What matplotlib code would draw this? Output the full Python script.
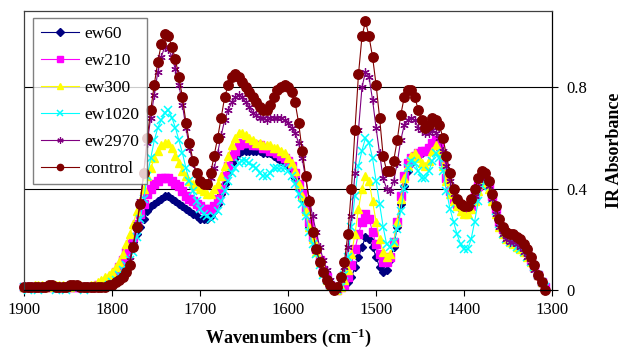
import numpy as np
import matplotlib
matplotlib.use('Agg')
import matplotlib.pyplot as plt

plt.rcParams['font.family'] = ['Liberation Serif', 'DejaVu Serif']
plt.rcParams['mathtext.fontset'] = 'custom'
plt.rcParams['mathtext.rm'] = 'Liberation Serif:bold'
plt.rcParams['mathtext.default'] = 'rm'

# wavenumbers, 1900 -> 1308 every 4 cm-1
wavenumbers = np.arange(1900, 1307, -4)

ew60 = [
    0.01, 0.01, 0.01, 0.01, 0.01, 0.01, 0.01, 0.01, 0.01, 0.01,
    0.01, 0.01, 0.01, 0.01, 0.01, 0.01, 0.01, 0.01, 0.01, 0.01,
    0.01, 0.01, 0.02, 0.02, 0.03, 0.04, 0.06, 0.08, 0.11, 0.14,
    0.17, 0.19, 0.22, 0.25, 0.28, 0.31, 0.33, 0.34, 0.35, 0.36,
    0.37, 0.37, 0.36, 0.35, 0.34, 0.33, 0.32, 0.31, 0.30, 0.29,
    0.28, 0.28, 0.28, 0.29, 0.31, 0.34, 0.38, 0.42, 0.46, 0.50,
    0.52, 0.54, 0.55, 0.55, 0.55, 0.55, 0.55, 0.55, 0.54, 0.54,
    0.54, 0.53, 0.52, 0.51, 0.50, 0.49, 0.47, 0.44, 0.40, 0.36,
    0.31, 0.25, 0.20, 0.15, 0.11, 0.07, 0.04, 0.02, 0.01, 0.00,
    0.01, 0.02, 0.03, 0.05, 0.09, 0.13, 0.17, 0.21, 0.20, 0.17,
    0.13, 0.09, 0.07, 0.08, 0.12, 0.17, 0.25, 0.34, 0.41, 0.47,
    0.50, 0.52, 0.53, 0.54, 0.55, 0.56, 0.57, 0.58, 0.56, 0.50,
    0.43, 0.38, 0.35, 0.33, 0.32, 0.31, 0.31, 0.33, 0.36, 0.40,
    0.43, 0.44, 0.41, 0.36, 0.31, 0.26, 0.23, 0.21, 0.20, 0.20,
    0.19, 0.18, 0.16, 0.14, 0.12, 0.09, 0.06, 0.03, 0.01,
]

ew210 = [
    0.01, 0.01, 0.01, 0.01, 0.01, 0.01, 0.01, 0.01, 0.01, 0.01,
    0.01, 0.01, 0.01, 0.01, 0.01, 0.01, 0.01, 0.01, 0.01, 0.01,
    0.01, 0.02, 0.02, 0.03, 0.04, 0.05, 0.07, 0.09, 0.12, 0.15,
    0.18, 0.21, 0.26, 0.30, 0.34, 0.38, 0.40, 0.42, 0.43, 0.44,
    0.44, 0.44, 0.43, 0.42, 0.41, 0.39, 0.37, 0.36, 0.35, 0.34,
    0.33, 0.32, 0.32, 0.32, 0.33, 0.36, 0.40, 0.45, 0.49, 0.53,
    0.55, 0.57, 0.58, 0.58, 0.58, 0.57, 0.57, 0.57, 0.56, 0.56,
    0.55, 0.55, 0.54, 0.53, 0.52, 0.51, 0.49, 0.46, 0.42, 0.38,
    0.32, 0.27, 0.21, 0.16, 0.12, 0.08, 0.05, 0.02, 0.01, 0.00,
    0.01, 0.02, 0.05, 0.10, 0.16, 0.22, 0.27, 0.30, 0.28, 0.23,
    0.18, 0.14, 0.11, 0.11, 0.13, 0.19, 0.27, 0.37, 0.45, 0.50,
    0.52, 0.53, 0.54, 0.55, 0.55, 0.56, 0.58, 0.59, 0.57, 0.51,
    0.44, 0.39, 0.36, 0.34, 0.33, 0.32, 0.32, 0.33, 0.37, 0.41,
    0.44, 0.45, 0.42, 0.37, 0.32, 0.27, 0.24, 0.22, 0.21, 0.21,
    0.20, 0.19, 0.17, 0.15, 0.12, 0.09, 0.06, 0.03, 0.01,
]

ew300 = [
    0.01, 0.01, 0.01, 0.02, 0.02, 0.02, 0.01, 0.01, 0.02, 0.02,
    0.02, 0.02, 0.01, 0.01, 0.02, 0.02, 0.02, 0.01, 0.01, 0.02,
    0.02, 0.03, 0.04, 0.05, 0.06, 0.07, 0.09, 0.11, 0.14, 0.18,
    0.22, 0.26, 0.31, 0.35, 0.40, 0.45, 0.48, 0.52, 0.55, 0.57,
    0.58, 0.58, 0.56, 0.53, 0.50, 0.47, 0.45, 0.43, 0.42, 0.41,
    0.40, 0.39, 0.38, 0.38, 0.40, 0.42, 0.45, 0.49, 0.53, 0.57,
    0.60, 0.62, 0.62, 0.61, 0.60, 0.59, 0.58, 0.58, 0.57, 0.57,
    0.57, 0.56, 0.56, 0.55, 0.54, 0.52, 0.50, 0.47, 0.42, 0.37,
    0.31, 0.25, 0.20, 0.15, 0.11, 0.07, 0.04, 0.02, 0.01, 0.00,
    0.01, 0.04, 0.08, 0.14, 0.22, 0.32, 0.40, 0.45, 0.43, 0.35,
    0.27, 0.20, 0.15, 0.13, 0.14, 0.19, 0.27, 0.36, 0.44, 0.49,
    0.53, 0.54, 0.52, 0.50, 0.49, 0.51, 0.55, 0.57, 0.55, 0.49,
    0.43, 0.38, 0.35, 0.33, 0.31, 0.30, 0.30, 0.32, 0.35, 0.39,
    0.42, 0.43, 0.40, 0.35, 0.30, 0.25, 0.22, 0.20, 0.19, 0.18,
    0.17, 0.16, 0.15, 0.13, 0.11, 0.09, 0.06, 0.03, 0.01,
]

ew1020 = [
    0.01, 0.00, 0.01, 0.01, 0.00, 0.01, 0.01, 0.01, 0.01, 0.00,
    0.01, 0.01, 0.00, 0.01, 0.01, 0.01, 0.01, 0.00, 0.01, 0.01,
    0.01, 0.01, 0.01, 0.01, 0.02, 0.03, 0.04, 0.06, 0.08, 0.10,
    0.12, 0.15, 0.21, 0.28, 0.36, 0.45, 0.52, 0.59, 0.64, 0.67,
    0.70, 0.71, 0.68, 0.64, 0.59, 0.54, 0.48, 0.43, 0.39, 0.35,
    0.32, 0.30, 0.29, 0.28, 0.29, 0.31, 0.35, 0.39, 0.43, 0.46,
    0.48, 0.50, 0.51, 0.51, 0.50, 0.49, 0.48, 0.46, 0.45, 0.45,
    0.46, 0.48, 0.48, 0.48, 0.48, 0.47, 0.45, 0.42, 0.38, 0.34,
    0.29, 0.23, 0.18, 0.14, 0.10, 0.06, 0.04, 0.02, 0.01, 0.00,
    0.01, 0.06, 0.13, 0.25, 0.37, 0.49, 0.55, 0.60, 0.58, 0.52,
    0.43, 0.34, 0.25, 0.18, 0.17, 0.19, 0.24, 0.31, 0.40, 0.48,
    0.51, 0.50, 0.47, 0.44, 0.44, 0.47, 0.51, 0.54, 0.52, 0.47,
    0.39, 0.32, 0.27, 0.22, 0.18, 0.16, 0.16, 0.20, 0.27, 0.35,
    0.41, 0.44, 0.41, 0.36, 0.31, 0.26, 0.22, 0.20, 0.19, 0.18,
    0.17, 0.16, 0.15, 0.13, 0.11, 0.09, 0.06, 0.03, 0.01,
]

ew2970 = [
    0.01, 0.01, 0.01, 0.01, 0.01, 0.01, 0.01, 0.01, 0.02, 0.01,
    0.01, 0.01, 0.01, 0.01, 0.02, 0.01, 0.01, 0.01, 0.01, 0.01,
    0.01, 0.01, 0.01, 0.01, 0.02, 0.02, 0.03, 0.04, 0.06, 0.08,
    0.12, 0.18, 0.26, 0.35, 0.46, 0.58, 0.68, 0.77, 0.86, 0.92,
    0.96, 0.95, 0.92, 0.87, 0.81, 0.73, 0.64, 0.56, 0.50, 0.46,
    0.43, 0.42, 0.42, 0.44, 0.48, 0.54, 0.61, 0.67, 0.71, 0.74,
    0.76, 0.77, 0.76, 0.74, 0.72, 0.70, 0.69, 0.68, 0.68, 0.67,
    0.68, 0.68, 0.68, 0.68, 0.67, 0.66, 0.64, 0.62, 0.58, 0.52,
    0.44, 0.36, 0.29, 0.23, 0.17, 0.12, 0.08, 0.04, 0.01, 0.00,
    0.04, 0.09, 0.17, 0.29, 0.46, 0.63, 0.80, 0.86, 0.84, 0.75,
    0.64, 0.54, 0.44, 0.40, 0.39, 0.43, 0.50, 0.59, 0.65, 0.67,
    0.68, 0.67, 0.64, 0.63, 0.62, 0.62, 0.63, 0.62, 0.60, 0.55,
    0.49, 0.43, 0.38, 0.35, 0.34, 0.33, 0.33, 0.34, 0.37, 0.41,
    0.44, 0.44, 0.41, 0.36, 0.30, 0.25, 0.22, 0.20, 0.19, 0.19,
    0.18, 0.17, 0.15, 0.13, 0.11, 0.08, 0.05, 0.03, 0.00,
]

control = [
    0.01, 0.01, 0.01, 0.01, 0.01, 0.01, 0.01, 0.02, 0.02, 0.01,
    0.01, 0.01, 0.01, 0.02, 0.02, 0.02, 0.01, 0.01, 0.01, 0.01,
    0.01, 0.01, 0.01, 0.01, 0.02, 0.02, 0.03, 0.04, 0.05, 0.07,
    0.10, 0.17, 0.25, 0.34, 0.46, 0.60, 0.71, 0.81, 0.90, 0.97,
    1.01, 1.00, 0.96, 0.91, 0.84, 0.76, 0.66, 0.58, 0.51, 0.46,
    0.43, 0.42, 0.42, 0.46, 0.53, 0.60, 0.68, 0.76, 0.81, 0.84,
    0.85, 0.84, 0.82, 0.80, 0.78, 0.76, 0.74, 0.72, 0.71, 0.71,
    0.73, 0.76, 0.79, 0.80, 0.81, 0.80, 0.78, 0.74, 0.66, 0.55,
    0.45, 0.35, 0.23, 0.16, 0.11, 0.07, 0.04, 0.02, 0.00, 0.01,
    0.05, 0.11, 0.22, 0.40, 0.63, 0.85, 1.00, 1.06, 1.00, 0.92,
    0.81, 0.68, 0.53, 0.47, 0.47, 0.51, 0.59, 0.69, 0.76, 0.79,
    0.79, 0.76, 0.71, 0.67, 0.64, 0.65, 0.68, 0.67, 0.65, 0.60,
    0.53, 0.46, 0.40, 0.36, 0.34, 0.33, 0.33, 0.36, 0.40, 0.44,
    0.47, 0.46, 0.43, 0.38, 0.33, 0.28, 0.25, 0.23, 0.22, 0.22,
    0.21, 0.20, 0.18, 0.16, 0.13, 0.10, 0.06, 0.03, 0.00,
]

fig = plt.figure(figsize=(6.22, 3.53), dpi=100)
ax = fig.add_axes([0.0386, 0.1785, 0.849, 0.790])

series = [
    ('ew60', ew60, '#000080', 'D', 4.5, 1.0),
    ('ew210', ew210, '#FF00FF', 's', 5.5, 1.0),
    ('ew300', ew300, '#FFFF00', '^', 6.0, 1.0),
    ('ew1020', ew1020, '#00FFFF', 'x', 5.5, 1.1),
    ('ew2970', ew2970, '#800080', (6, 2, 0), 6.0, 0.9),
    ('control', control, '#800000', 'o', 6.8, 1.0),
]
for name, vals, col, mk, ms, mew in series:
    ax.plot(wavenumbers, vals, color=col, lw=0.8, marker=mk, ms=ms,
            mec=col, mfc=col, mew=mew, label=name, clip_on=False)

ax.set_xlim(1900, 1300)
ax.set_ylim(0, 1.1)
ax.set_xticks([1900, 1800, 1700, 1600, 1500, 1400, 1300])
ax.set_yticks([0, 0.4, 0.8])
ax.set_yticklabels(['0', '0.4', '0.8'])
ax.yaxis.tick_right()
ax.yaxis.set_label_position('right')
ax.tick_params(axis='both', direction='out', length=4, width=0.8,
               labelsize=12, colors='black')
ax.tick_params(axis='y', pad=6)
ax.tick_params(axis='x', pad=5)
ax.grid(axis='y', color='black', lw=0.8)
ax.set_axisbelow(True)
for s in ['top', 'left']:
    ax.spines[s].set_color('#404040')
for s in ['bottom', 'right']:
    ax.spines[s].set_color('black')
for s in ax.spines.values():
    s.set_linewidth(0.9)

ax.set_xlabel('Wavenumbers (cm$^{-1}$)', fontsize=13, fontweight='bold', labelpad=6)
ax.set_ylabel('IR Absorbance', fontsize=13, fontweight='bold', labelpad=14)

leg = ax.legend(loc='upper left', bbox_to_anchor=(0.017, 0.975), fontsize=12.5,
                frameon=True, fancybox=False, edgecolor='#606060',
                borderpad=0.45, labelspacing=0.62, handlelength=2.2,
                handletextpad=0.3, borderaxespad=0)
leg.get_frame().set_linewidth(1.0)
for h in leg.legend_handles:
    h.set_markersize(4.5)

fig.savefig('out.png', dpi=100)
